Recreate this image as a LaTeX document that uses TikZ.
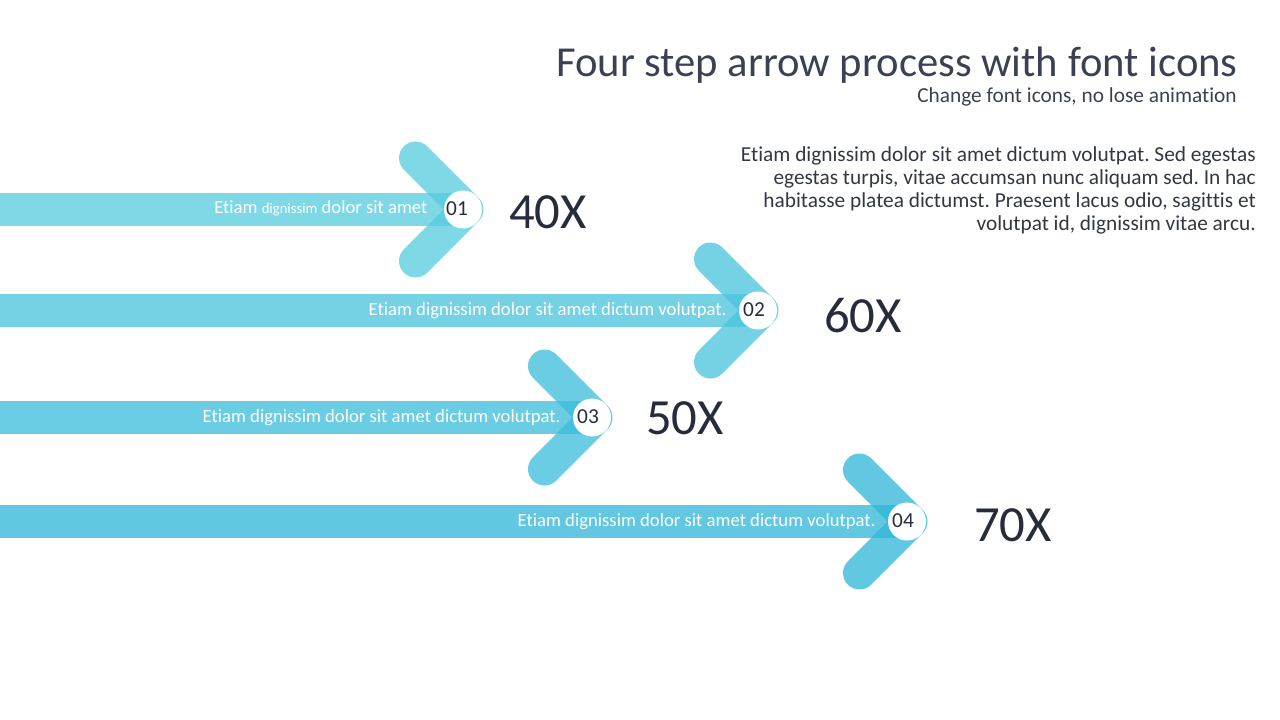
\documentclass[tikz,border=0pt]{standalone}
\usepackage{fontspec}
\setmainfont{Carlito}[Ligatures=NoCommon]
\frenchspacing

\definecolor{flecha1}{RGB}{84,203,222}
\definecolor{flecha2}{RGB}{71,195,219}
\definecolor{flecha3}{RGB}{58,188,218}
\definecolor{flecha4}{RGB}{46,182,216}
\definecolor{tinta}{RGB}{38,44,58}
\definecolor{titulo}{RGB}{59,65,82}
\definecolor{texto}{RGB}{50,55,65}

\begin{document}
\begin{tikzpicture}[
            x=0.75pt, y=-0.75pt,
            chevron/.style={
                line width=24.75pt,
                line cap=round,
                line join=round,
                opacity=0.75
            },
            barra/.style={opacity=0.75},
            punta/.style={
                circle,
                fill=white,
                minimum size=28.5pt,
                inner sep=0pt
            },
            numero/.style={text=tinta, inner sep=0pt, font=\fontsize{16}{18}\selectfont},
            etiqueta/.style={anchor=base east, text=white, inner sep=0pt, font=\fontsize{14}{16}\selectfont},
            valor/.style={anchor=west, text=tinta, inner sep=0pt, font=\fontsize{38}{42}\selectfont}
        ]

        \useasboundingbox (0,0) rectangle (1280,720);

        % Título
        \node[anchor=base east, inner sep=0pt, text=titulo, font=\fontsize{32}{36}\selectfont] (titulo) at (1238,77) {Four step arrow process with font icons};
        \node[anchor=base east, inner sep=0pt, text=titulo, font=\fontsize{16}{18}\selectfont] (subtitulo) at (1237,103) {Change font icons, no lose animation};

        % Párrafo
        \node[anchor=north east, inner sep=0pt, align=right, text=texto, font=\fontsize{16}{17.25}\selectfont] (parrafo) at (1256,146) {Etiam dignissim dolor sit amet dictum volutpat. Sed egestas\\ egestas turpis, vitae accumsan nunc aliquam sed. In hac\\ habitasse platea dictumst. Praesent lacus odio, sagittis et\\ volutpat id, dignissim vitae arcu.};

        % Flecha 1
        \coordinate (p1) at (467,209.5);
        \fill[flecha1, barra] (0,193) rectangle (463,226);
        \draw[flecha1, chevron] ([shift={(-51.5,-51.5)}]p1) -- (p1) -- ([shift={(-51.5,51.5)}]p1);
        \node[punta] (c1) at ([shift={(-4,0)}]p1) {};
        \node[numero] (n1) at ([shift={(-6,-1)}]c1) {01};
        \node[etiqueta] (t1) at ([shift={(-16,4)}]c1.west) {Etiam {\fontsize{11}{12}\selectfont dignissim} dolor sit amet};
        \node[valor] (v1) at (509,212) {40X};

        % Flecha 2
        \coordinate (p2) at (762,310.5);
        \fill[flecha2, barra] (0,294) rectangle (758,327);
        \draw[flecha2, chevron] ([shift={(-51.5,-51.5)}]p2) -- (p2) -- ([shift={(-51.5,51.5)}]p2);
        \node[punta] (c2) at ([shift={(-4,0)}]p2) {};
        \node[numero] (n2) at ([shift={(-4,-1)}]c2) {02};
        \node[etiqueta] (t2) at ([shift={(-12,5)}]c2.west) {Etiam dignissim dolor sit amet dictum volutpat.};
        \node[valor] (v2) at (824,316) {60X};

        % Flecha 3
        \coordinate (p3) at (596,417.5);
        \fill[flecha3, barra] (0,401) rectangle (592,434);
        \draw[flecha3, chevron] ([shift={(-51.5,-51.5)}]p3) -- (p3) -- ([shift={(-51.5,51.5)}]p3);
        \node[punta] (c3) at ([shift={(-4,0)}]p3) {};
        \node[numero] (n3) at ([shift={(-4,-1)}]c3) {03};
        \node[etiqueta] (t3) at ([shift={(-12,5)}]c3.west) {Etiam dignissim dolor sit amet dictum volutpat.};
        \node[valor] (v3) at (646,418) {50X};

        % Flecha 4
        \coordinate (p4) at (911,521.5);
        \fill[flecha4, barra] (0,505) rectangle (907,538);
        \draw[flecha4, chevron] ([shift={(-51.5,-51.5)}]p4) -- (p4) -- ([shift={(-51.5,51.5)}]p4);
        \node[punta] (c4) at ([shift={(-4,0)}]p4) {};
        \node[numero] (n4) at ([shift={(-4,-1)}]c4) {04};
        \node[etiqueta] (t4) at ([shift={(-12,5)}]c4.west) {Etiam dignissim dolor sit amet dictum volutpat.};
        \node[valor] (v4) at (974,525) {70X};

        \end{tikzpicture}
\end{document}
